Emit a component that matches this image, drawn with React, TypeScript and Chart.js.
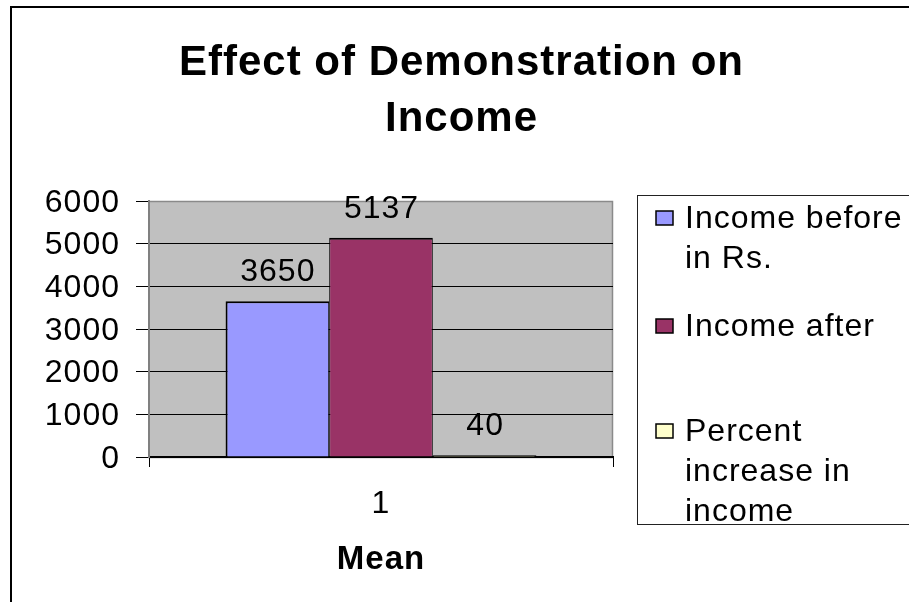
import { useEffect, useRef } from "react";
import { Chart, registerables } from "chart.js";

Chart.register(...registerables);

// ---- data ----
const categories = ["1"];
const seriesNames = ["Income before in Rs.", "Income after", "Percent increase in income"];
const legendLines = [["Income before", "in Rs."], ["Income after"], ["Percent", "increase in", "income"]];
const incomeBefore = [3650];
const incomeAfter = [5137];
const percentIncrease = [40];
const yTickValues = [0, 1000, 2000, 3000, 4000, 5000, 6000];
const titleLines = ["Effect of Demonstration on", "Income"];
const xAxisTitle = "Mean";
const seriesColors = ["#9999FF", "#993366", "#FFFFCC"];

const FONT = '"Liberation Sans", Arial, Helvetica, sans-serif';

const backgroundPlugin = {
  id: "bgPlot",
  beforeDraw(chart: any) {
    const { ctx, chartArea: a, width, height } = chart;
    try {
      (ctx as any).letterSpacing = "1px";
    } catch (e) {}
    ctx.save();
    ctx.fillStyle = "#ffffff";
    ctx.fillRect(0, 0, width, height);
    ctx.strokeStyle = "#000000";
    ctx.lineWidth = 2;
    ctx.strokeRect(11, 7, width + 40, height + 40);
    ctx.fillStyle = "#C0C0C0";
    ctx.fillRect(a.left, a.top, a.right - a.left, a.bottom - a.top);
    ctx.strokeStyle = "#8a8a8a";
    ctx.lineWidth = 1.5;
    ctx.strokeRect(a.left, a.top + 0.5, a.right - a.left - 0.5, a.bottom - a.top);
    ctx.restore();
  },
};

const valueLabelPlugin = {
  id: "valueLabels",
  afterDatasetsDraw(chart: any) {
    const { ctx } = chart;
    ctx.save();
    ctx.fillStyle = "#000";
    ctx.font = `32px ${FONT}`;
    ctx.textAlign = "center";
    ctx.textBaseline = "middle";
    chart.data.datasets.forEach((ds: any, i: number) => {
      const meta = chart.getDatasetMeta(i);
      meta.data.forEach((el: any, j: number) => {
        ctx.fillText(String(ds.data[j]), el.x + 0.5, el.y - 29);
      });
    });
    ctx.restore();
  },
};

const legendPlugin = {
  id: "customLegend",
  afterDraw(chart: any) {
    const { ctx } = chart;
    const itemTops = [218, 326, 431];
    const step = 40;
    ctx.save();
    ctx.strokeStyle = "#222";
    ctx.lineWidth = 1;
    ctx.strokeRect(637.5, 195.5, 400, 329);
    ctx.font = `32px ${FONT}`;
    ctx.textAlign = "left";
    ctx.textBaseline = "middle";
    legendLines.forEach((lines, i) => {
      const cy = itemTops[i];
      ctx.fillStyle = seriesColors[i];
      ctx.fillRect(656, cy - 7, 17, 14);
      ctx.strokeStyle = "#000";
      ctx.lineWidth = 1.5;
      ctx.strokeRect(656, cy - 7, 17, 14);
      ctx.fillStyle = "#000";
      lines.forEach((t, k) => {
        ctx.fillText(t, 685, cy + 1.5 + k * step);
      });
    });
    ctx.restore();
  },
};

export default function App() {
  const ref = useRef<HTMLCanvasElement | null>(null);

  useEffect(() => {
    if (!ref.current) return;
    Chart.defaults.font.family = FONT;
    const values = [incomeBefore, incomeAfter, percentIncrease];
    const sideBorders = [
      { left: 2, top: 2, right: 1, bottom: 0 },
      { left: 1, top: 2, right: 1, bottom: 0 },
      { left: 1, top: 2, right: 2, bottom: 0 },
    ];
    const chart = new Chart(ref.current, {
      type: "bar",
      data: {
        labels: categories,
        datasets: seriesNames.map((name, i) => ({
          label: name,
          data: values[i],
          backgroundColor: seriesColors[i],
          borderColor: "#000",
          borderWidth: sideBorders[i],
          borderSkipped: false,
          barPercentage: 1,
          categoryPercentage: 0.67,
          yAxisID: "y",
        })),
      },
      options: {
        animation: false,
        responsive: true,
        maintainAspectRatio: false,
        layout: { padding: { left: 14, right: 0, top: 0, bottom: 0 } },
        plugins: {
          legend: { display: false },
          tooltip: { enabled: false },
          title: {
            display: true,
            text: titleLines,
            color: "#000",
            font: { size: 42, weight: "bold", lineHeight: 56 / 42, family: FONT },
            padding: { top: 35, bottom: 54 },
          },
        },
        scales: {
          x: {
            type: "category",
            offset: true,
            grid: {
              display: true,
              drawOnChartArea: false,
              drawTicks: true,
              tickLength: 10,
              offset: true,
              color: "#000",
              tickColor: "#000",
              lineWidth: 1,
            },
            border: { display: true, color: "#000", width: 2 },
            ticks: { color: "#000", font: { size: 32, family: FONT }, padding: 18, maxRotation: 0 },
            title: {
              display: true,
              text: xAxisTitle,
              color: "#000",
              font: { size: 33, weight: "bold", family: FONT },
              padding: { top: 0, bottom: 22 },
            },
            afterFit: (s: any) => {
              s.height = 145;
            },
          },
          y: {
            type: "linear",
            position: "left",
            min: yTickValues[0],
            max: yTickValues[yTickValues.length - 1],
            afterBuildTicks: (s: any) => {
              s.ticks = yTickValues.map((v) => ({ value: v }));
            },
            ticks: {
              color: "#000",
              font: { size: 32, family: FONT },
              padding: 16,
              labelOffset: 2,
              callback: (v: any) => String(v),
            },
            grid: {
              color: (c: any) =>
                c.tick && c.tick.value === yTickValues[yTickValues.length - 1] ? "rgba(0,0,0,0)" : "#000",
              tickColor: "#000",
              tickLength: 13,
              lineWidth: 1,
              drawTicks: true,
            },
            border: { display: true, color: "#808080", width: 2 },
            afterFit: (s: any) => {
              s.width = 135;
            },
          },
          yR: {
            type: "linear",
            position: "right",
            display: true,
            grid: { display: false, drawTicks: false },
            border: { display: false },
            ticks: { display: false },
            afterFit: (s: any) => {
              s.width = 296;
            },
          },
        },
      } as any,
      plugins: [backgroundPlugin, valueLabelPlugin, legendPlugin],
    });
    return () => chart.destroy();
  }, []);

  return (
    <div style={{ position: "absolute", left: 0, top: 0, width: 909, height: 602 }}>
      <canvas ref={ref} style={{ display: "block" }} />
    </div>
  );
}
